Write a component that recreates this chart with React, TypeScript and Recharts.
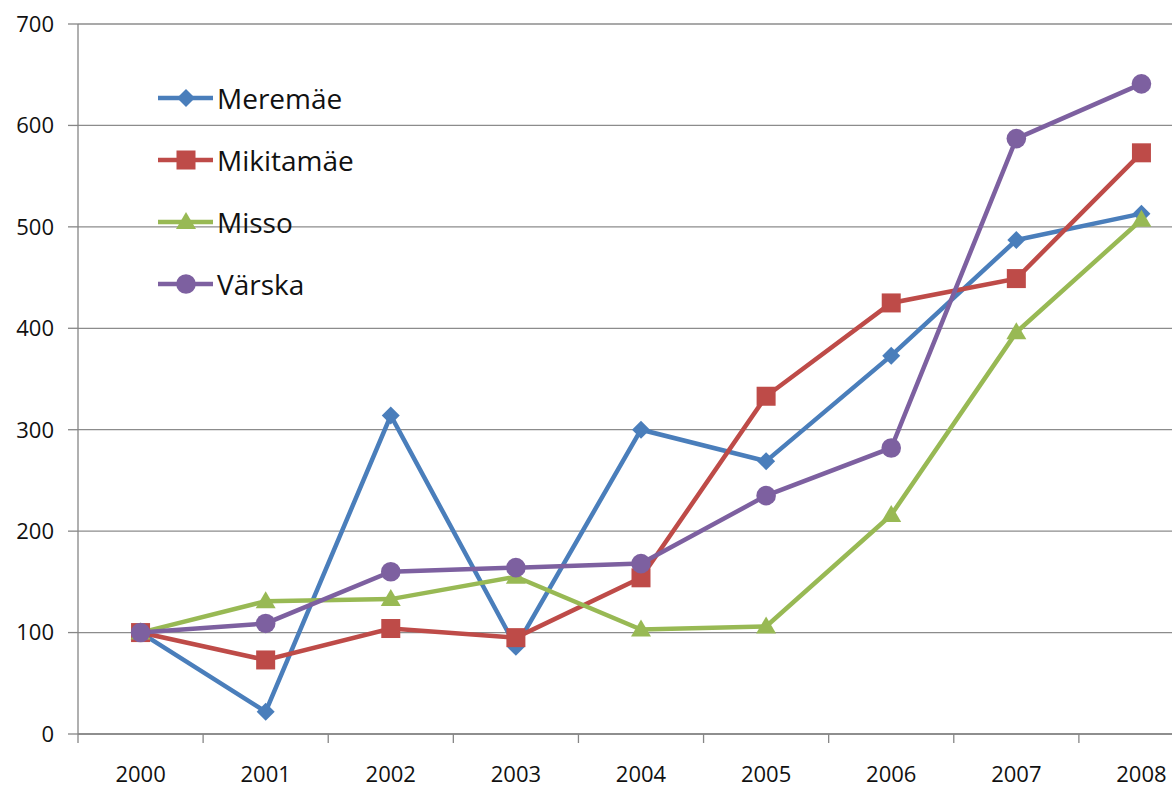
import React from "react";
import { LineChart, Line, XAxis, YAxis, CartesianGrid } from "recharts";

const years = ["2000", "2001", "2002", "2003", "2004", "2005", "2006", "2007", "2008"];
const meremae = [100, 22, 314, 86, 300, 269, 373, 487, 513];
const mikitamae = [100, 73, 104, 95, 154, 333, 425, 449, 573];
const misso = [100, 131, 133, 155, 103, 106, 216, 396, 507];
const varska = [100, 109, 160, 164, 168, 235, 282, 587, 641];
const yTicks = [0, 100, 200, 300, 400, 500, 600, 700];

const seriesNames = ["Meremäe", "Mikitamäe", "Misso", "Värska"];
const seriesColors = ["#4A7EBB", "#BE4B48", "#98B954", "#7D60A0"];
const seriesShapes = ["diamond", "square", "triangle", "circle"];

const data = years.map((y, i) => ({
  year: y,
  Meremäe: meremae[i],
  Mikitamäe: mikitamae[i],
  Misso: misso[i],
  Värska: varska[i],
}));

const FONT = "'Open Sans', sans-serif";

function Marker({ shape, cx, cy, color }: { shape: string; cx: number; cy: number; color: string }) {
  if (shape === "diamond") {
    const r = 9;
    return <polygon points={`${cx},${cy - r} ${cx + r},${cy} ${cx},${cy + r} ${cx - r},${cy}`} fill={color} />;
  }
  if (shape === "square") {
    const h = 9.5;
    return <rect x={cx - h} y={cy - h} width={2 * h} height={2 * h} fill={color} />;
  }
  if (shape === "triangle") {
    return <polygon points={`${cx},${cy - 10} ${cx + 10},${cy + 7} ${cx - 10},${cy + 7}`} fill={color} />;
  }
  return <circle cx={cx} cy={cy} r={9.8} fill={color} />;
}

const makeDot = (shape: string, color: string) => (props: any) => {
  const { cx, cy, index } = props;
  if (cx == null || cy == null) return <g key={index} />;
  return <Marker key={index} shape={shape} cx={cx} cy={cy} color={color} />;
};

const XTick = (props: any) => {
  const { x, y, payload } = props;
  const half = payload && typeof payload.offset === "number" && payload.offset > 0 ? payload.offset : 62.55;
  return (
    <g>
      <line x1={x - half} x2={x - half} y1={y} y2={y + 9} stroke="#868686" strokeWidth={1.3} />
      <text x={x} y={y + 48} textAnchor="middle" fontSize={22} fontFamily={FONT} fill="#111">
        {payload.value}
      </text>
    </g>
  );
};

function LegendBox() {
  return (
    <div style={{ position: "absolute", left: 156, top: 67, fontFamily: FONT }}>
      {seriesNames.map((name, i) => (
        <div key={name} style={{ display: "flex", alignItems: "center", height: 62 }}>
          <svg width={60} height={30} style={{ display: "block" }}>
            <line x1={2} x2={57} y1={15} y2={15} stroke={seriesColors[i]} strokeWidth={4.5} />
            <Marker shape={seriesShapes[i]} cx={30} cy={15} color={seriesColors[i]} />
          </svg>
          <span style={{ fontSize: 28, color: "#111", marginLeft: 1, lineHeight: "30px" }}>{name}</span>
        </div>
      ))}
    </div>
  );
}

export default function App() {
  return (
    <div style={{ position: "absolute", left: 0, top: 0, width: 1172, height: 787, overflow: "hidden", background: "#fff" }}>
      <LineChart width={1210} height={787} data={data} margin={{ top: 24, right: 6, left: 0, bottom: 0 }}>
        <CartesianGrid vertical={false} stroke="#8c8c8c" strokeWidth={1.3} />
        <XAxis
          dataKey="year"
          scale="band"
          height={53}
          axisLine={{ stroke: "#868686", strokeWidth: 1.3 }}
          tickLine={false}
          tickSize={0}
          tickMargin={0}
          tick={<XTick />}
          interval={0}
        />
        <YAxis
          width={78}
          domain={[0, 700]}
          ticks={yTicks}
          interval={0}
          axisLine={{ stroke: "#868686", strokeWidth: 1.3 }}
          tickLine={{ stroke: "#868686", strokeWidth: 1.3 }}
          tickSize={10}
          tickMargin={14}
          tick={{ fontSize: 22, fontFamily: FONT, fill: "#111" }}
        />
        {seriesNames.map((name, i) => (
          <Line
            key={name}
            type="linear"
            dataKey={name}
            stroke={seriesColors[i]}
            strokeWidth={4.5}
            dot={makeDot(seriesShapes[i], seriesColors[i])}
            activeDot={false}
            isAnimationActive={false}
          />
        ))}
      </LineChart>
      <LegendBox />
    </div>
  );
}
